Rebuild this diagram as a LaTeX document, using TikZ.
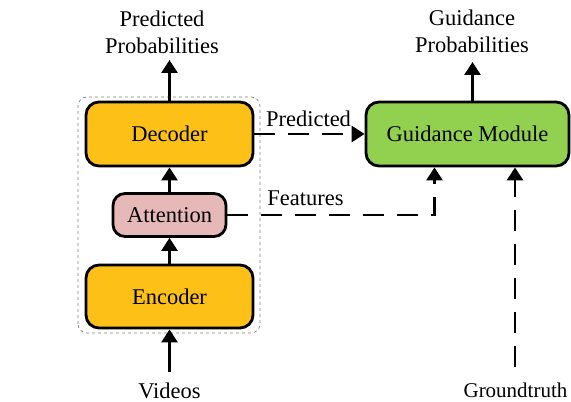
\documentclass[tikz,border=0pt]{standalone}
\usepackage{fontspec}
\setmainfont{Liberation Serif}
\usetikzlibrary{arrows.meta}
\definecolor{boxorange}{HTML}{FCC016}
\definecolor{boxgreen}{HTML}{92D050}
\definecolor{boxpink}{HTML}{E6B8B7}
\tikzset{
  x=1pt,y=1pt,
  every node/.style={font=\fontsize{22.5}{27}\selectfont},
  blk/.style={draw=black,line width=2.8pt,rounded corners=13pt,inner sep=0pt,align=center},
  lbl/.style={inner sep=0pt,align=center},
  tip/.style={-{Triangle[width=16pt,length=13pt]}},
  conn/.style={line width=2.8pt,tip},
  dconn/.style={line width=2.8pt,tip,dash pattern=on 21pt off 13pt},
}
\begin{document}
\begin{tikzpicture}
\useasboundingbox (0,0) rectangle (571,402);
% container
\draw[gray,dashed,line width=0.7pt,rounded corners=9pt] (78,69) rectangle (260,305);
% boxes
\node[blk,fill=boxorange,minimum width=167pt,minimum height=64pt] (dec) at (169.5,268) {Decoder};
\node[blk,fill=boxpink,minimum width=113pt,minimum height=43pt,rounded corners=12pt] (att) at (169.5,187) {Attention};
\node[blk,fill=boxorange,minimum width=167pt,minimum height=63pt] (enc) at (169.5,105.5) {Encoder};
\node[blk,fill=boxgreen,minimum width=203pt,minimum height=64pt] (gm) at (467.5,268) {Guidance Module};
% texts
\node[lbl] (pp) at (162,370) {Predicted\\Probabilities};
\node[lbl] (gp) at (472,371) {Guidance\\Probabilities};
\node[lbl] (vid) at (169.5,11) {Videos};
\node[lbl,font=\fontsize{21}{25}\selectfont] (gt) at (515.5,12) {Groundtruth};
\node[lbl] (lpred) at (308.5,283) {Predicted};
\node[lbl] (lfeat) at (305.5,204) {Features};
% free ends
\coordinate (pptip) at (169.5,342);
\coordinate (gptip) at (472.5,340);
\coordinate (vidtail) at (169.5,30);
\coordinate (gttail) at (515,35);
\coordinate (fcorner) at (434.5,187);
% connectors
\draw[conn] (dec.north) -- (pptip);
\draw[conn] (att.north) -- (dec.south);
\draw[conn] (enc.north) -- (att.south);
\draw[conn] (vidtail) -- (enc.south);
\draw[conn] (gm.north -| gptip) -- (gptip);
\draw[dconn] (dec.east) -- (gm.west);
\draw[dconn] (att.east) -- (att.east -| fcorner) -- (fcorner |- gm.south);
\draw[dconn] (gttail) -- (gttail |- gm.south);
\end{tikzpicture}
\end{document}
